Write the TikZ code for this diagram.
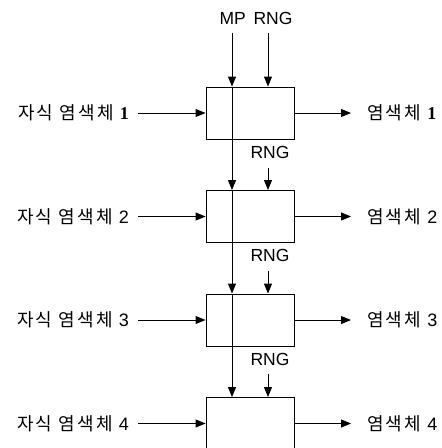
\documentclass[tikz,border=0pt]{standalone}
\usepackage{fontspec}
\setmainfont{Liberation Sans}
\newfontfamily\kr[LetterSpace=12]{Noto Sans CJK KR}
\newfontfamily\serifone{Liberation Serif}
\newfontfamily\sansdigit{Liberation Sans}
\usetikzlibrary{arrows.meta}
\begin{document}
\begin{tikzpicture}[x=1pt,y=1pt,
  arr/.style={-{Triangle[length=10pt,width=8pt]}, line width=0.9pt},
  box/.style={draw, line width=0.9pt, rectangle, minimum width=88pt, minimum height=52pt, inner sep=0pt},
  lbl/.style={font=\fontsize{17.5}{19}\selectfont, inner sep=0pt},
  klbl/.style={font=\fontsize{18}{20}\selectfont\kr, inner sep=0pt}]
\useasboundingbox (0,-448) rectangle (442,0);
\clip (0,-448) rectangle (442,0);
% boxes
\node[box] (b1) at (250,-113) {};
\node[box] (b2) at (250,-216.5) {};
\node[box] (b3) at (250,-320) {};
\node[box] (b4) at (250,-423.5) {};
% top label
\node[lbl] (mp) at (256,-18) {MP\hspace{3pt} RNG};
\coordinate (mpA) at (232,-33);
\coordinate (rnA) at (268,-33);
\draw[arr] (mpA) -- (mpA |- b1.north);
\draw[arr] (rnA) -- (rnA |- b1.north);
% chain line through boxes
\draw[arr] (mpA |- b1.north) -- (mpA |- b2.north);
\draw[arr] (mpA |- b2.north) -- (mpA |- b3.north);
\draw[arr] (mpA |- b3.north) -- (mpA |- b4.north);
% RNG labels
\node[lbl] (r2) at (270,-152) {RNG};
\node[lbl] (r3) at (270,-255) {RNG};
\node[lbl] (r4) at (270,-359) {RNG};
\coordinate (r2a) at (268,-168);
\coordinate (r3a) at (268,-271);
\coordinate (r4a) at (268,-374);
\draw[arr] (r2a) -- (r2a |- b2.north);
\draw[arr] (r3a) -- (r3a |- b3.north);
\draw[arr] (r4a) -- (r4a |- b4.north);
% left labels
\node[klbl, anchor=east] (l1) at (129,-113) {자식 염색체 {\serifone\bfseries 1}};
\node[klbl, anchor=east] (l2) at (129,-216.5) {자식 염색체 {\sansdigit 2}};
\node[klbl, anchor=east] (l3) at (129,-320) {자식 염색체 {\sansdigit 3}};
\node[klbl, anchor=east] (l4) at (129,-423.5) {자식 염색체 {\sansdigit 4}};
\coordinate (la1) at (138,-113);
\coordinate (la2) at (138,-216.5);
\coordinate (la3) at (138,-320);
\coordinate (la4) at (138,-423.5);
\draw[arr] (la1) -- (b1.west);
\draw[arr] (la2) -- (b2.west);
\draw[arr] (la3) -- (b3.west);
\draw[arr] (la4) -- (b4.west);
% right labels
\node[klbl, anchor=west] (o1) at (367,-113) {염색체 {\serifone\bfseries 1}};
\node[klbl, anchor=west] (o2) at (367,-216.5) {염색체 {\sansdigit 2}};
\node[klbl, anchor=west] (o3) at (367,-320) {염색체 {\sansdigit 3}};
\node[klbl, anchor=west] (o4) at (367,-423.5) {염색체 {\sansdigit 4}};
\coordinate (ra1) at (351,-113);
\coordinate (ra2) at (351,-216.5);
\coordinate (ra3) at (351,-320);
\coordinate (ra4) at (351,-423.5);
\draw[arr] (b1.east) -- (ra1);
\draw[arr] (b2.east) -- (ra2);
\draw[arr] (b3.east) -- (ra3);
\draw[arr] (b4.east) -- (ra4);
\end{tikzpicture}
\end{document}
